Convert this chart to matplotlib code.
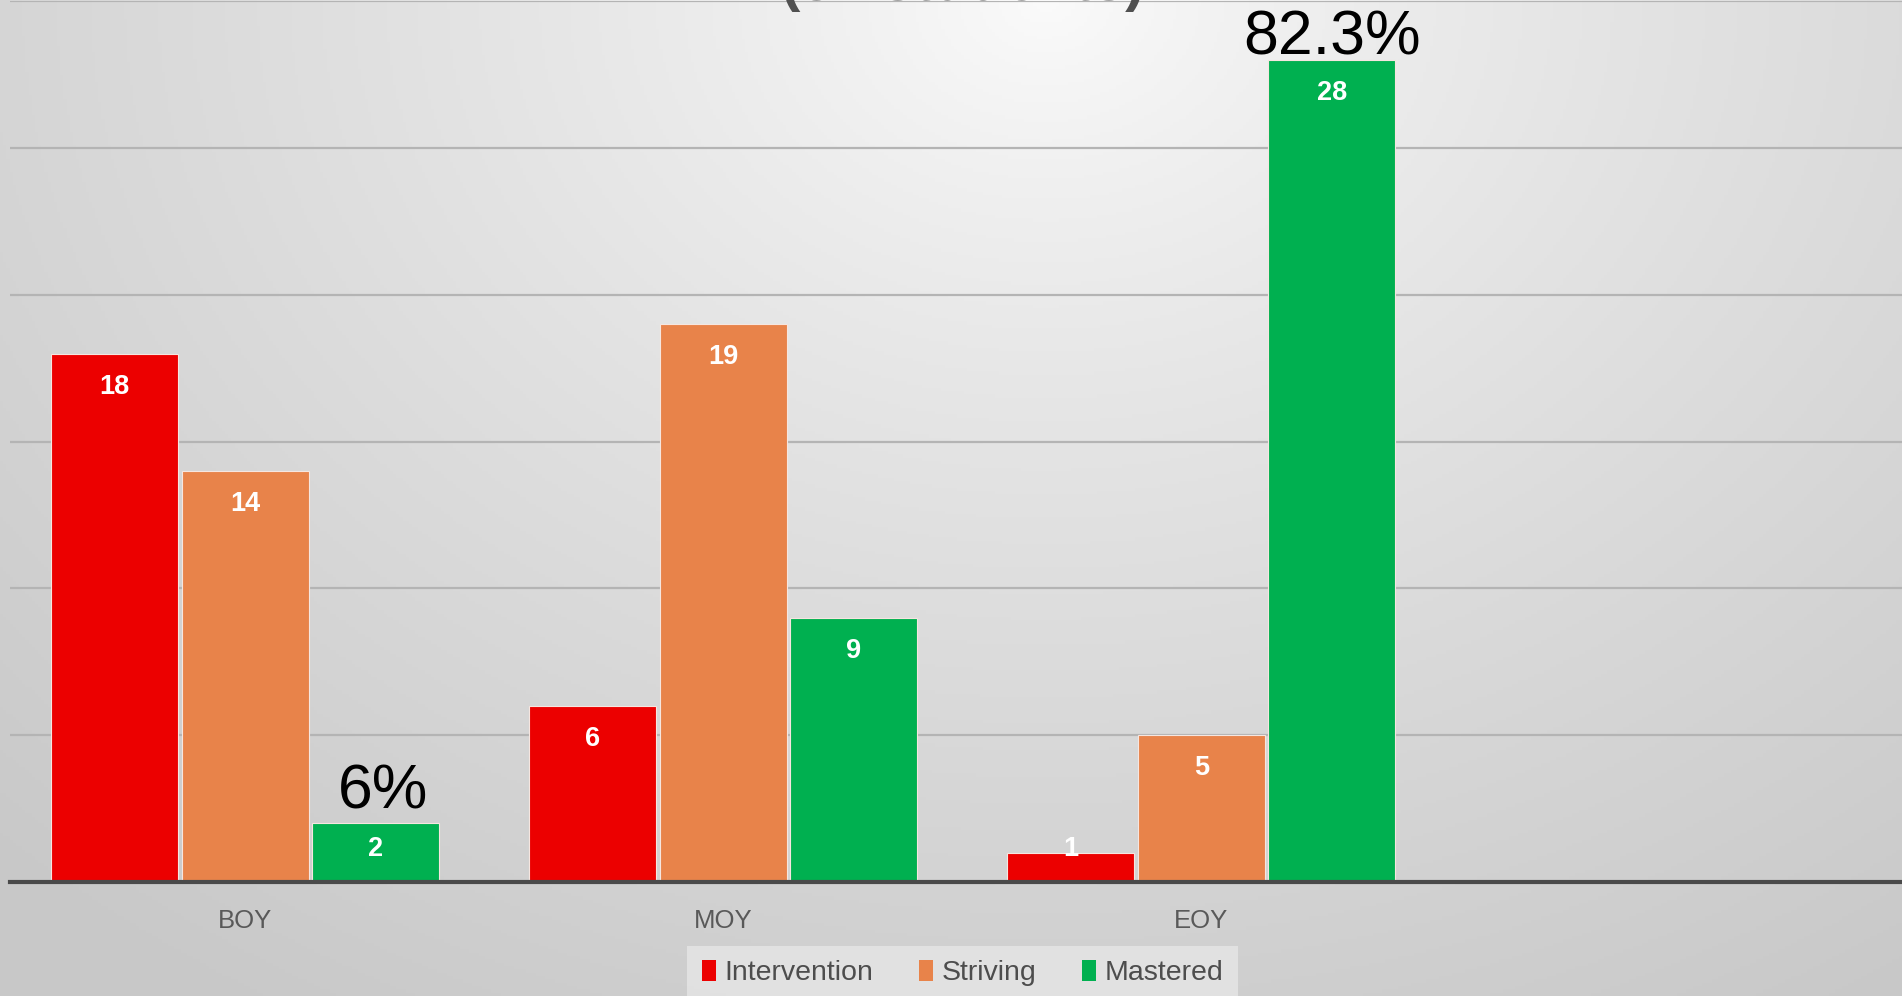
import numpy as np
import matplotlib
matplotlib.use("Agg")
import matplotlib.pyplot as plt
from matplotlib.patches import Patch

# ---- data ----
categories = ["BOY", "MOY", "EOY", ""]
series_names = ["Intervention", "Striving", "Mastered"]
intervention = [18, 6, 1, None]
striving = [14, 19, 5, None]
mastered = [2, 9, 28, None]
colors = ["#EC0000", "#E8834A", "#00B050"]
title_text = "(34 students)"
pct_labels = [(0, 2, "6%"), (2, 2, "82.3%")]  # (category index, series index, text)

W, H, DPI = 1902, 996, 100
fig = plt.figure(figsize=(W / DPI, H / DPI), dpi=DPI)

# ---- background radial gradient ----
bg = fig.add_axes([0, 0, 1, 1], zorder=-10)
yy, xx = np.mgrid[0:1:300j, 0:1:600j]
d = np.sqrt(((xx - 0.55) / 0.8) ** 2 + ((yy - 0.0) / 1.2) ** 2)
d = np.clip(d, 0, 1) ** 0.8
c0, c1 = 0.985, 0.785
img = c0 + (c1 - c0) * d
bg.imshow(np.dstack([img, img, img]), extent=[0, 1, 0, 1], aspect="auto", origin="upper")
bg.axis("off")

# ---- main axes ----
left_px = 9.7
ax = fig.add_axes([left_px / W, 114 / H, 1 - left_px / W, 1 - 114 / H - 0.0012])
ax.set_facecolor("none")
x = np.arange(len(categories))
offset = 0.273
width = 0.266
all_series = [intervention, striving, mastered]
bar_containers = []
for i, (vals, col) in enumerate(zip(all_series, colors)):
    xs = [xi + (i - 1) * offset for xi, v in zip(x, vals) if v is not None]
    vs = [v for v in vals if v is not None]
    ax.bar(xs, vs, width=width, color=col, edgecolor="#f6e6e0", linewidth=0.8, zorder=3)
    bar_containers.append((xs, vs))

ax.set_xlim(-0.493, 3.466)
ax.set_ylim(0, 30)
ax.set_yticks([0, 5, 10, 15, 20, 25, 30])
ax.yaxis.grid(True, color="#b4b4b4", linewidth=1.6, zorder=0)
ax.set_axisbelow(True)
ax.tick_params(axis="y", left=False, labelleft=False)
ax.tick_params(axis="x", bottom=False, pad=16, labelsize=18.5, labelcolor="#595959")
ax.set_xticks(x)
ax.set_xticklabels(categories, fontfamily="Liberation Sans")
for s in ["left", "right", "top"]:
    ax.spines[s].set_visible(False)
ax.spines["bottom"].set_color("#4a4a4a")
ax.spines["bottom"].set_linewidth(3)
ax.spines["bottom"].set_zorder(5)

# ---- data labels (white, inside end) ----
for xs, vs in bar_containers:
    for xi, v in zip(xs, vs):
        if v >= 3:
            dy = -33
        elif v >= 2:
            dy = -26
        else:
            dy = 4
        ax.annotate(str(v), (xi, v), xytext=(0, dy * 0.72), textcoords="offset points",
                    ha="center", va="center", color="white", fontsize=19.5,
                    fontweight="bold", fontfamily="Liberation Sans", zorder=6)

# ---- percent annotations ----
gaps = {"6%": 15, "82.3%": 5}
dx = {"6%": 7, "82.3%": 0}
for ci, si, txt in pct_labels:
    xi = x[ci] + (si - 1) * offset
    v = all_series[si][ci]
    ax.annotate(txt, (xi, v), xytext=(dx[txt] * 0.72, gaps[txt] * 0.72), textcoords="offset points",
                ha="center", va="baseline", color="black", fontsize=45,
                fontfamily="Liberation Sans", zorder=6, annotation_clip=False)

# ---- title (cut off at top) ----
fig.text(0.506, 1 + 0.5 / H, title_text, ha="center", va="baseline", fontsize=42,
         fontweight="bold", color="#505050", fontfamily="Liberation Sans")

# ---- legend ----
handles = [Patch(facecolor=c, edgecolor="none") for c in colors]
leg = fig.legend(handles, series_names, loc="center", bbox_to_anchor=(0.506, 0.023),
                 ncol=3, frameon=True, handlelength=0.5, handleheight=0.75,
                 handletextpad=0.3, columnspacing=1.6, borderpad=0.5,
                 prop={"family": "Liberation Sans", "size": 20.5})
leg.get_frame().set_facecolor("#e6e6e6")
leg.get_frame().set_edgecolor("none")
leg.get_frame().set_boxstyle("square", pad=0.0)
for t in leg.get_texts():
    t.set_color("#4d4d4d")

fig.savefig("out.png", dpi=DPI)
